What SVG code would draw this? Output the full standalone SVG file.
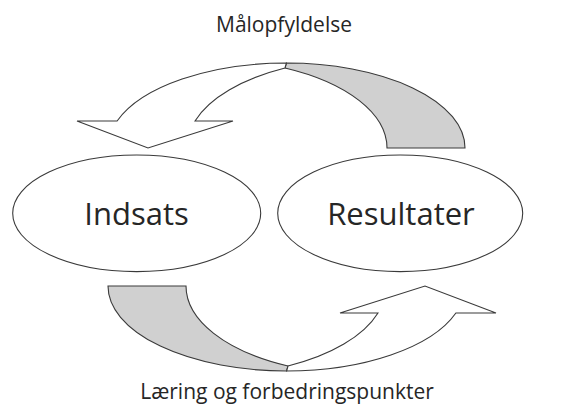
<svg xmlns="http://www.w3.org/2000/svg" width="565" height="410" viewBox="0 0 565 410">
<style>
.shape{stroke:#3a3a3a;stroke-width:1.1;stroke-linejoin:miter}
.front{fill:#ffffff}
.back{fill:#d0d0d0}
.node{fill:#ffffff;stroke:#3a3a3a;stroke-width:1.1}
.lbl{font-family:"Open Sans","DejaVu Sans",sans-serif;fill:#262626;text-anchor:middle}
.big{font-size:31px}
.small{font-size:21px}
</style>
<rect width="565" height="410" fill="#ffffff"/>
<g id="connectors">
  <g id="arrow-top">
    <path class="shape back" d="M 286.4,63 A 178.6 85 0 0 1 465,148 L 387,148 A 178.6 88.6 0 0 0 285,68 Z"/>
    <path class="shape front" d="M 77,121 L 117.1,121 A 178.6 85 0 0 1 286.4,63 L 285,68 A 178.6 88.6 0 0 0 195,121 L 233,121 L 148,148 Z"/>
  </g>
  <g id="arrow-bottom" transform="rotate(180 286.5 217)">
    <path class="shape back" d="M 286.4,63 A 178.6 85 0 0 1 465,148 L 387,148 A 178.6 88.6 0 0 0 285,68 Z"/>
    <path class="shape front" d="M 77,121 L 117.1,121 A 178.6 85 0 0 1 286.4,63 L 285,68 A 178.6 88.6 0 0 0 195,121 L 233,121 L 148,148 Z"/>
  </g>
  <text class="lbl small" x="284" y="32">Målopfyldelse</text>
  <text class="lbl small" x="287" y="399">Læring og forbedringspunkter</text>
</g>
<g id="node-indsats">
  <ellipse class="node" cx="136.7" cy="213.3" rx="124" ry="58.3"/>
  <text class="lbl big" x="136.5" y="225">Indsats</text>
</g>
<g id="node-resultater">
  <ellipse class="node" cx="400.2" cy="213.3" rx="122.5" ry="58.3"/>
  <text class="lbl big" x="401" y="225">Resultater</text>
</g>
</svg>
